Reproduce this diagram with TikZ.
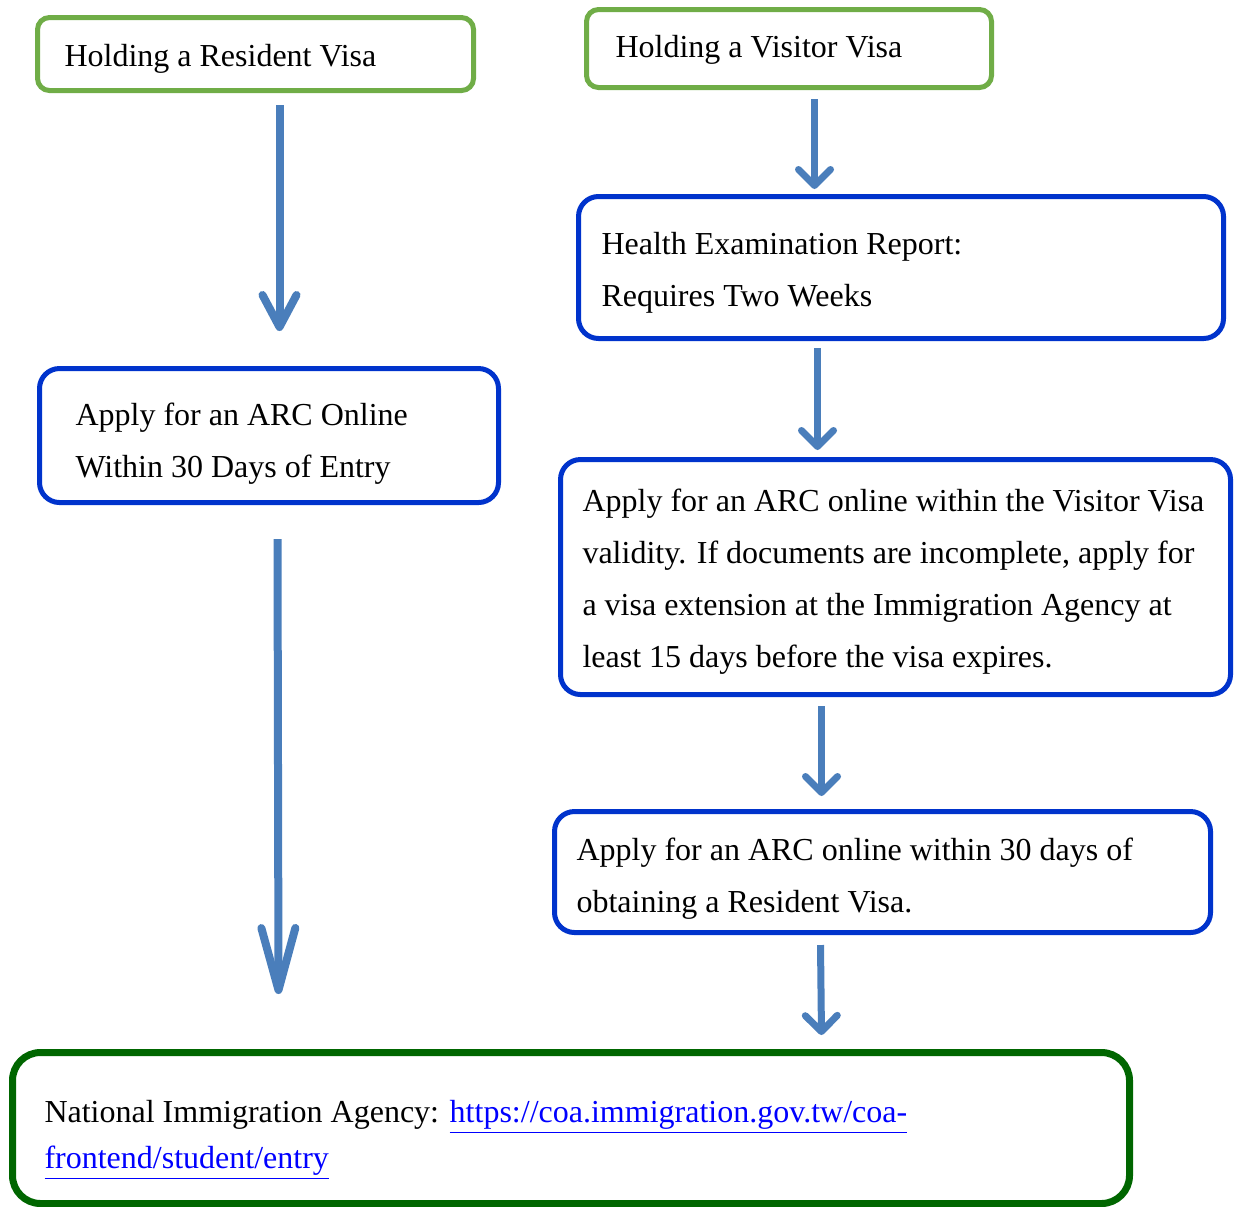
\documentclass[tikz,border=0pt]{standalone}
\usepackage{fontspec}
\setmainfont{Liberation Serif}
\usetikzlibrary{arrows.meta}
\definecolor{visagreen}{RGB}{112,173,71}
\definecolor{stepblue}{RGB}{0,51,204}
\definecolor{agencygreen}{RGB}{0,102,0}
\definecolor{flowblue}{RGB}{74,126,187}
\definecolor{linkblue}{RGB}{0,0,255}
\newcommand{\weblink}[1]{\textcolor{linkblue}{\underline{#1}}}
\newcommand{\linestrut}[1]{\rule{0pt}{#1}}

\begin{document}
\begin{tikzpicture}[x=0.5pt,y=-0.5pt]
			\tikzset{every node/.style={anchor=north west,align=flush left,font=\fontsize{16}{26}\selectfont}}
			\tikzset{visabox/.style={draw=visagreen,line width=2.5pt,rounded corners=6pt}}
			\tikzset{stepbox/.style={draw=stepblue,line width=2.5pt,rounded corners=10pt}}
			\tikzset{agencybox/.style={draw=agencygreen,line width=3.5pt,rounded corners=14pt}}
			\tikzset{flow/.style={draw=flowblue,line width=3.5pt,-{Straight Barb[length=8pt,width=16pt,round]}}}
			\tikzset{longflow/.style={draw=flowblue,line width=4pt,-{Straight Barb[length=16pt,width=17pt,round]}}}
			\tikzset{longerflow/.style={draw=flowblue,line width=4pt,-{Straight Barb[length=31pt,width=17pt,round]}}}
			\useasboundingbox (0,0) rectangle (1235,1206);
			% left column
			\node[visabox,inner xsep=13.5pt,text width=191pt,minimum height=36.5pt] (resident) at (35,15) {\linestrut{15.5pt}Holding a Resident Visa};
			\node[stepbox,inner xsep=18pt,text width=193.5pt,minimum height=67pt] (arconline) at (37,366) {\linestrut{19.5pt}Apply for an ARC Online\\Within 30 Days of Entry};
			% right column
			\node[visabox,inner xsep=14.5pt,text width=173.5pt,minimum height=39pt] (visitor) at (584,7) {\linestrut{12.5pt}Holding a Visitor Visa};
			\node[stepbox,inner xsep=11.5pt,text width=299.5pt,minimum height=71pt] (health) at (576,194) {\linestrut{16.5pt}Health Examination Report:\\Requires Two Weeks};
			\node[stepbox,inner xsep=11pt,text width=313pt,minimum height=117.5pt] (extension) at (558,457) {\linestrut{15.5pt}Apply for an ARC online within the Visitor Visa\\validity. If documents are incomplete, apply for\\a visa extension at the Immigration Agency at\\least 15 days before the visa expires.};
			\node[stepbox,inner xsep=11pt,text width=306pt,minimum height=60.5pt] (arcresident) at (552,809) {\linestrut{17.5pt}Apply for an ARC online within 30 days of\\obtaining a Resident Visa.};
			% bottom
			\node[agencybox,inner xsep=16pt,text width=526.5pt,minimum height=75.5pt] (agency) at (9,1049) {\linestrut{23pt}National Immigration Agency: \weblink{https://coa.immigration.gov.tw/coa-}\\[-3pt]\weblink{frontend/student/entry}};
			% arrows
			\draw[longflow] ([shift={(24,12)}]resident.south) -- ([shift={(10.5,-35)}]arconline.north);
			\draw[longerflow] ([shift={(8.5,34)}]arconline.south) -- ([shift={(-292.5,-55)}]agency.north);
			\draw[flow] ([shift={(25.5,9)}]visitor.south) -- ([shift={(-86.5,-5)}]health.north);
			\draw[flow] ([shift={(-83.5,7)}]health.south) -- ([shift={(-78,-7)}]extension.north);
			\draw[flow] ([shift={(-74,9)}]extension.south) -- ([shift={(-61,-13)}]arcresident.north);
			\draw[flow] ([shift={(-62,10)}]arcresident.south) -- ([shift={(250.5,-14)}]agency.north);
\end{tikzpicture}
\end{document}
